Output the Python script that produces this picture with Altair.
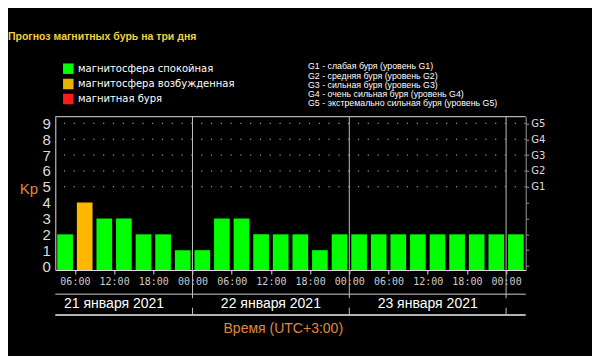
import altair as alt
import pandas as pd

# ---------------- data ----------------
kp_values = [2, 4, 3, 3, 2, 2, 1,
             1, 3, 3, 2, 2, 2, 1, 2,
             2, 2, 2, 2, 2, 2, 2, 2,
             2]
slot_hours = 3  # each bar = 3 hour interval, starting 03:00 local on 21 Jan
tick_hours = [3, 9, 15, 21, 27, 33, 39, 45, 51, 57, 63, 69]
tick_labels = ["06:00", "12:00", "18:00", "00:00",
               "06:00", "12:00", "18:00", "00:00",
               "06:00", "12:00", "18:00", "00:00"]
day_boundaries = [21, 45, 69]
date_labels = ["21 января 2021", "22 января 2021", "23 января 2021"]
date_noon_hours = [9, 33, 57]
kp_ticks = [0, 1, 2, 3, 4, 5, 6, 7, 8, 9]
g_levels = [5, 6, 7, 8, 9]
g_names = ["G1", "G2", "G3", "G4", "G5"]
legend_labels = ["магнитосфера спокойная", "магнитосфера возбужденная", "магнитная буря"]
legend_colors = ["#00ff00", "#e6b400", "#ff1a1a"]
bar_colors = ["#00ff00", "#ffb800", "#ff1a1a"]
g_desc = ["G1 - слабая буря (уровень G1)",
          "G2 - средняя буря (уровень G2)",
          "G3 - сильная буря (уровень G3)",
          "G4 - очень сильная буря (уровень G4)",
          "G5 - экстремально сильная буря (уровень G5)"]
title_text = "Прогноз магнитных бурь на три дня"
x_title = "Время (UTC+3:00)"

# ---------------- layout ----------------
W, H = 470.4, 153.3
PAD_L, PAD_T = 47.3, 108.7
ORANGE = "#e0883a"
Y_MIN, Y_MAX = -0.25, 9.42


def status(v):
    if v >= 5:
        return legend_labels[2]
    if v >= 4:
        return legend_labels[1]
    return legend_labels[0]


bars_df = pd.DataFrame({
    "start": [i * slot_hours + 0.3 for i in range(len(kp_values))],
    "end": [i * slot_hours + 2.7 for i in range(len(kp_values))],
    "kp": kp_values,
    "status": [status(v) for v in kp_values],
})

xscale = alt.Scale(domain=[0, len(kp_values) * slot_hours], nice=False, zero=False)
yscale = alt.Scale(domain=[Y_MIN, Y_MAX], nice=False, zero=False)

label_expr = "[" + ",".join("'%s'" % t for t in tick_labels) + "][indexof([" + \
    ",".join(str(t) for t in tick_hours) + "], datum.value)]"
g_expr = "[" + ",".join("'%s'" % g for g in g_names) + "][indexof([" + \
    ",".join(str(g) for g in g_levels) + "], datum.value)] || ''"

x_axis = alt.Axis(values=tick_hours, labelExpr=label_expr, title=None, grid=False,
                  domainColor="#dddddd", tickColor="#dddddd", tickSize=4,
                  labelColor="#cccccc", labelFont="DejaVu Sans Mono", labelFontSize=10,
                  labelPadding=2, labelFlush=False, labelOverlap=False)
left_axis = alt.Axis(values=kp_ticks, title="Kp", titleAngle=0, titleX=-27, titleY=71.6,
                     titleAlign="center", titleBaseline="middle", titleColor=ORANGE,
                     titleFont="Liberation Sans", titleFontSize=15, titleFontWeight="normal",
                     grid=False, ticks=False, domainColor="#dddddd",
                     labelColor="#dddddd", labelFont="Liberation Sans", labelFontSize=15,
                     labelPadding=5)
right_axis = alt.Axis(orient="right", values=kp_ticks, labelExpr=g_expr, title=None,
                      grid=False, domainColor="#999999", tickColor="#999999", tickSize=3,
                      labelColor="#dddddd", labelFont="DejaVu Sans", labelFontSize=10,
                      labelPadding=2)

one = pd.DataFrame({"a": [0]})

grid = alt.Chart(pd.DataFrame({"level": g_levels})).mark_rule(
    color="#bbbbbb", strokeDash=[1.2, 8.6], strokeWidth=1
).encode(y=alt.Y("level:Q", scale=yscale, axis=right_axis))

bars = alt.Chart(bars_df).mark_bar().encode(
    x=alt.X("start:Q", scale=xscale, axis=x_axis),
    x2="end:Q",
    y=alt.Y("kp:Q", scale=yscale, axis=left_axis),
    y2=alt.datum(Y_MIN),
    color=alt.Color("status:N", scale=alt.Scale(domain=legend_labels, range=bar_colors), legend=None),
)

top_border = alt.Chart(one).mark_rule(color="#dddddd").encode(y=alt.value(0))
gray_line = alt.Chart(one).mark_rule(color="#8a8a8a", strokeWidth=1.5).encode(y=alt.value(177.6))
white_line = alt.Chart(one).mark_rule(color="#eeeeee", strokeWidth=1.5).encode(y=alt.value(198.3))

bdf = pd.DataFrame({"h": day_boundaries})
boundary1 = alt.Chart(bdf).mark_rule(color="#bbbbbb").encode(
    x=alt.X("h:Q", scale=xscale, axis=x_axis), y=alt.value(0), y2=alt.value(181.5))
boundary2 = alt.Chart(bdf).mark_rule(color="#bbbbbb").encode(
    x=alt.X("h:Q", scale=xscale, axis=x_axis), y=alt.value(191), y2=alt.value(198.3))

dates = alt.Chart(pd.DataFrame({"h": date_noon_hours, "t": date_labels})).mark_text(
    color="#ffffff", font="Liberation Sans", fontSize=14, baseline="middle", align="center"
).encode(x=alt.X("h:Q", scale=xscale, axis=x_axis), y=alt.value(187.3), text="t:N")

xtitle = alt.Chart(pd.DataFrame({"t": [x_title]})).mark_text(
    color=ORANGE, font="Liberation Sans", fontSize=14, baseline="middle", align="center"
).encode(x=alt.value(228), y=alt.value(212.5), text="t:N")

title = alt.Chart(pd.DataFrame({"t": [title_text]})).mark_text(
    color="#f0d040", font="Liberation Sans", fontSize=10.5, fontWeight="bold",
    baseline="middle", align="left"
).encode(x=alt.value(-47.3), y=alt.value(-79.7), text="t:N")

layers = [grid, bars, top_border, gray_line, white_line, boundary1, boundary2,
          dates, xtitle, title]

legend_y = [-48, -32.7, -17.7]
for lab, col, yy in zip(legend_labels, legend_colors, legend_y):
    layers.append(alt.Chart(pd.DataFrame({"t": [lab]})).mark_square(
        size=110, color=col, opacity=1).encode(x=alt.value(13), y=alt.value(yy)))
    layers.append(alt.Chart(pd.DataFrame({"t": [lab]})).mark_text(
        color="#ffffff", font="DejaVu Sans", fontSize=10, baseline="middle", align="left"
    ).encode(x=alt.value(22.7), y=alt.value(yy), text="t:N"))

for i, line in enumerate(g_desc):
    layers.append(alt.Chart(pd.DataFrame({"t": [line]})).mark_text(
        color="#ffffff", font="Liberation Sans", fontSize=8.8, baseline="middle", align="left"
    ).encode(x=alt.value(252.7), y=alt.value(-50.5 + i * 9.3), text="t:N"))

chart = alt.layer(*layers).resolve_scale(y="shared", x="shared").resolve_axis(
    y="independent"
).properties(
    width=W, height=H,
    padding={"left": PAD_L, "top": PAD_T, "right": 584 - W - PAD_L, "bottom": 348 - H - PAD_T},
    autosize=alt.AutoSizeParams(type="none"),
).configure(background="#000000").configure_view(stroke=None)

chart.save("out.html", embed_options={"renderer": "svg", "actions": False})
